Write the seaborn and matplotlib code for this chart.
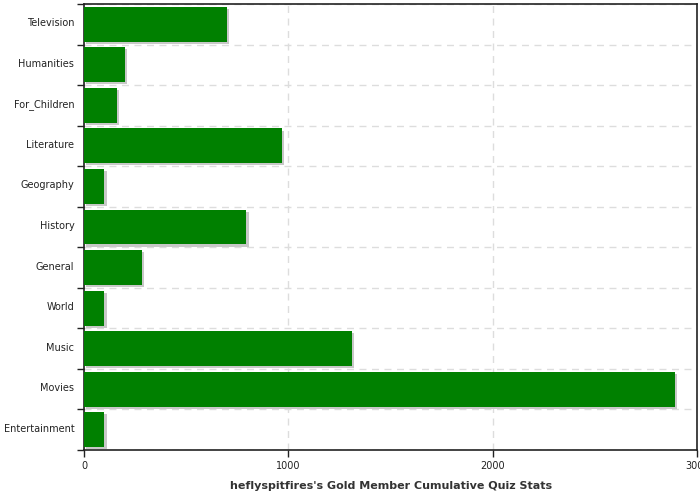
import numpy as np
import pandas as pd
import matplotlib
matplotlib.use("Agg")
import matplotlib.pyplot as plt
import matplotlib.patheffects as pe
import matplotlib.transforms as mtransforms
import seaborn as sns

# values
categories = ["Television", "Humanities", "For_Children", "Literature", "Geography",
              "History", "General", "World", "Music", "Movies", "Entertainment"]
points = [700, 200, 160, 970, 100, 795, 283, 100, 1310, 2890, 100]
x_ticks = [0, 1000, 2000, 3000]

df = pd.DataFrame({"category": categories, "points": points})

sns.set_style("white")
plt.rcParams["font.family"] = ["DejaVu Sans"]

fig = plt.figure(figsize=(7, 5), dpi=100)
ax = fig.add_axes([0.12, 0.1, 0.876, 0.892])

sns.barplot(data=df, x="points", y="category", orient="h", color="#008000",
            saturation=1, width=0.86, ax=ax, zorder=3)

# light grey drop shadow on the bars
for bar in ax.patches:
    bar.set_edgecolor("none")
    bar.set_path_effects([pe.SimplePatchShadow(offset=(1.5, -1.5), shadow_rgbFace="#c8c8c8", alpha=1.0),
                          pe.Normal()])

ax.set_xlim(0, 3000)
ax.set_ylim(len(categories) - 0.5, -0.5)
ax.set_xticks(x_ticks)
ax.set_xticklabels([str(t) for t in x_ticks], fontsize=7, color="#222222")

# category boundaries get the tick marks and the horizontal grid
ax.set_yticks(np.arange(-0.5, len(categories), 1), minor=True)
ax.tick_params(axis="y", which="both", left=True)
ax.tick_params(axis="y", which="major", length=0, labelsize=7, labelcolor="#222222", pad=7)
ax.tick_params(axis="y", which="minor", length=5, width=1, color="#222222", direction="out")
ax.tick_params(axis="x", which="major", bottom=True, length=5, width=1, color="#222222",
               direction="out", pad=3)

# category labels sit a touch above the bar centre in the original
shift = mtransforms.ScaledTranslation(0, 2 / 100, fig.dpi_scale_trans)
for lbl in ax.get_yticklabels():
    lbl.set_transform(lbl.get_transform() + shift)

ax.grid(False)
ax.grid(axis="y", which="minor", linestyle=(0, (5, 4)), color="#dddddd", linewidth=1, zorder=0)
ax.grid(axis="x", which="major", linestyle=(0, (5, 4)), color="#dddddd", linewidth=1, zorder=0)
ax.set_axisbelow(True)

for side in ["left", "bottom", "top", "right"]:
    ax.spines[side].set_visible(True)
    ax.spines[side].set_color("#222222")
    ax.spines[side].set_linewidth(1.2)

ax.set_ylabel("")
ax.set_xlabel("heflyspitfires's Gold Member Cumulative Quiz Stats", fontsize=8,
              fontweight="bold", color="#333333", labelpad=7)

fig.savefig("out.png", dpi=100)
